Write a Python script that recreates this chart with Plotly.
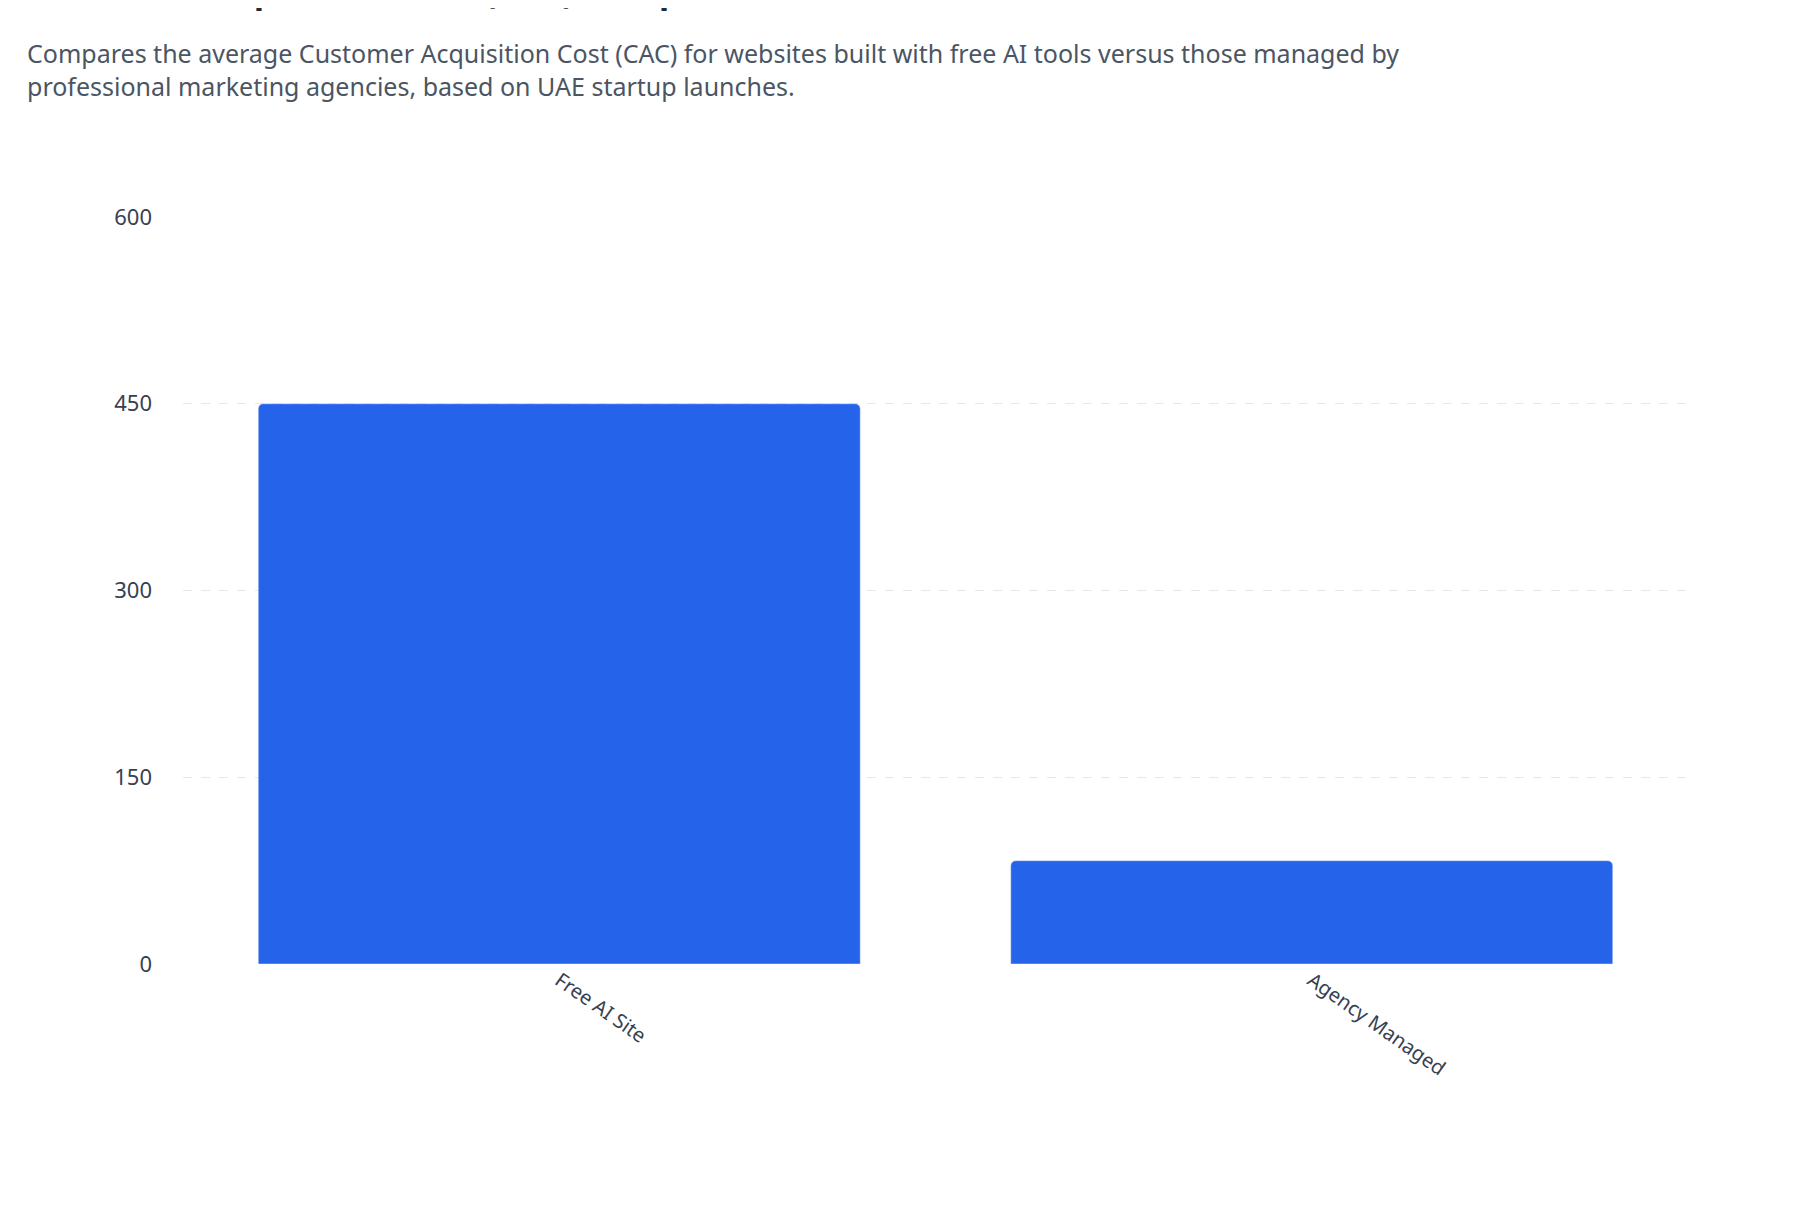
import plotly.graph_objects as go

categories = ["Free AI Site", "Agency Managed"]
cac_values = [450, 83]
y_ticks = [0, 150, 300, 450, 600]

fig = go.Figure(go.Bar(
    x=categories,
    y=cac_values,
    marker=dict(color="#2563eb", cornerradius=5),
    width=0.8,
))

fig.update_layout(
    width=1800, height=1222,
    paper_bgcolor="white", plot_bgcolor="white",
    font=dict(family="Noto Sans", color="#374151", size=22),
    margin=dict(l=175, r=120, t=209, b=266),
    showlegend=False,
    annotations=[
        dict(text="<b>Customer Acquisition Cost (CAC) Comparison</b>",
             xref="paper", yref="paper", x=-0.105, y=1.27,
             xanchor="left", yanchor="bottom", showarrow=False,
             font=dict(size=34, color="#1f2937")),
        dict(text="Compares the average Customer Acquisition Cost (CAC) for websites built with free AI tools versus those managed by<br>"
                  "professional marketing agencies, based on UAE startup launches.",
             xref="paper", yref="paper", x=-0.105, y=1.245,
             xanchor="left", yanchor="top", showarrow=False, align="left",
             font=dict(size=25, color="#4b5563")),
    ],
)
fig.update_xaxes(tickangle=35, tickfont=dict(size=20), showline=False, ticks="")
fig.update_yaxes(range=[0, 600], tickvals=y_ticks, showgrid=True,
                 gridcolor="#e5e7eb", griddash="dash", zeroline=False,
                 ticks="", ticklabelstandoff=30)

fig.write_html("out.html")
